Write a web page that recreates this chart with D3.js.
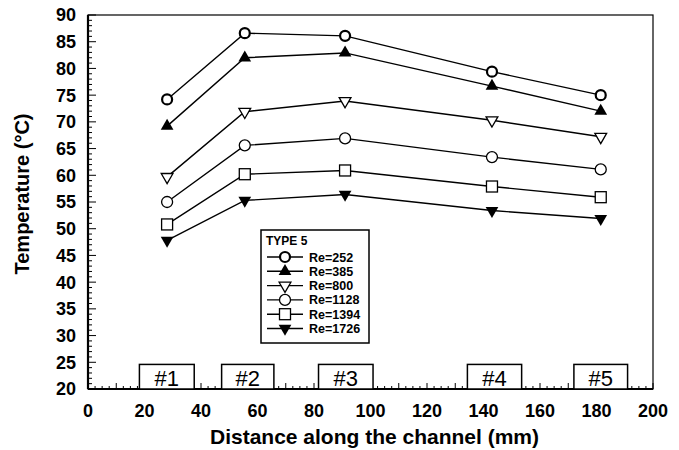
<!DOCTYPE html>
<html>
<head>
<meta charset="utf-8">
<script src="https://cdn.jsdelivr.net/npm/d3@7"></script>
<style>
  body { margin: 0; background: #fff; }
  svg { font-family: "Liberation Sans", Arial, sans-serif; }
</style>
</head>
<body>
<div id="chart"></div>
<script>
// positions along the channel (mm)
var xPos = [28, 55.5, 91, 143, 181.5];
var seriesNames = ['Re=252', 'Re=385', 'Re=800', 'Re=1128', 'Re=1394', 'Re=1726'];
var re252 = [74.2, 86.6, 86.1, 79.4, 75.0];
var re385 = [69.2, 82.0, 82.9, 76.7, 72.0];
var re800 = [59.7, 71.9, 73.9, 70.3, 67.2];
var re1128 = [55.0, 65.6, 66.9, 63.4, 61.1];
var re1394 = [50.8, 60.2, 60.9, 57.9, 55.9];
var re1726 = [47.8, 55.3, 56.4, 53.4, 51.9];
var seriesValues = [re252, re385, re800, re1128, re1394, re1726];

// heater boxes (#1..#5)
var boxLabels = ['#1', '#2', '#3', '#4', '#5'];
var boxStart = [18.2, 47.3, 81.6, 134.3, 172.0];
var boxEnd = [37.6, 65.8, 100.9, 153.5, 191.0];
var boxTop = 24.6;

var xTicks = [0, 20, 40, 60, 80, 100, 120, 140, 160, 180, 200];
var yTicks = [20, 25, 30, 35, 40, 45, 50, 55, 60, 65, 70, 75, 80, 85, 90];

var width = 679, height = 450;
var margin = {left: 88, right: 26, top: 15, bottom: 61};

var svg = d3.select('#chart').append('svg')
  .attr('width', width).attr('height', height);

var x = d3.scaleLinear().domain([0, 200]).range([margin.left, width - margin.right]);
var y = d3.scaleLinear().domain([20, 90]).range([height - margin.bottom, margin.top]);

// minor ticks
var xMinor = d3.range(0, 200.1, 2.5);
svg.append('g').selectAll('line').data(xMinor).enter().append('line')
  .attr('x1', d => x(d)).attr('x2', d => x(d))
  .attr('y1', y(20)).attr('y2', d => y(20) - (d % 10 === 0 ? 6 : 3))
  .attr('stroke', '#000').attr('stroke-width', 1);

var yMinor = d3.range(20, 90.1, 1);
svg.append('g').selectAll('line').data(yMinor).enter().append('line')
  .attr('x1', x(0)).attr('x2', d => x(0) + (d % 5 === 0 ? 8 : 4))
  .attr('y1', d => y(d)).attr('y2', d => y(d))
  .attr('stroke', '#000').attr('stroke-width', 1);

// frame
svg.append('rect')
  .attr('x', x(0)).attr('y', y(90))
  .attr('width', x(200) - x(0)).attr('height', y(20) - y(90))
  .attr('fill', 'none').attr('stroke', '#000').attr('stroke-width', 1.2);
svg.append('line').attr('x1', x(0)).attr('x2', x(0)).attr('y1', y(90)).attr('y2', y(20))
  .attr('stroke', '#000').attr('stroke-width', 2.2);
svg.append('line').attr('x1', x(0)).attr('x2', x(200)).attr('y1', y(20)).attr('y2', y(20))
  .attr('stroke', '#000').attr('stroke-width', 2.2);

// tick labels
svg.append('g').selectAll('text').data(yTicks).enter().append('text')
  .attr('x', x(0) - 12).attr('y', d => y(d)).attr('dy', '0.36em')
  .attr('text-anchor', 'end').attr('font-size', 18).attr('font-weight', 'bold')
  .text(d => d);
svg.append('g').selectAll('text').data(xTicks).enter().append('text')
  .attr('x', d => x(d)).attr('y', y(20) + 28)
  .attr('text-anchor', 'middle').attr('font-size', 18).attr('font-weight', 'bold')
  .text(d => d);

// axis titles
svg.append('text')
  .attr('x', (x(0) + x(200)) / 2 + 4).attr('y', 444)
  .attr('text-anchor', 'middle').attr('font-size', 21).attr('font-weight', 'bold')
  .text('Distance along the channel (mm)');
svg.append('text')
  .attr('transform', 'translate(29,' + ((y(20) + y(90)) / 2 - 8) + ') rotate(-90)')
  .attr('text-anchor', 'middle').attr('font-size', 20).attr('font-weight', 'bold')
  .text('Temperature (°C)');

// heater boxes
var boxes = svg.append('g').selectAll('g').data(boxLabels).enter().append('g');
boxes.append('rect')
  .attr('x', (d, i) => x(boxStart[i])).attr('y', y(boxTop))
  .attr('width', (d, i) => x(boxEnd[i]) - x(boxStart[i]))
  .attr('height', y(20) - y(boxTop))
  .attr('fill', '#fff').attr('stroke', '#000').attr('stroke-width', 1.5);
boxes.append('text')
  .attr('x', (d, i) => (x(boxStart[i]) + x(boxEnd[i])) / 2).attr('y', y(20) - 3)
  .attr('text-anchor', 'middle').attr('font-size', 22)
  .text(d => d);

// markers
function marker(g, i, cx, cy) {
  if (i === 0) {
    g.append('circle').attr('cx', cx).attr('cy', cy).attr('r', 5)
      .attr('fill', '#fff').attr('stroke', '#000').attr('stroke-width', 2.2);
  } else if (i === 1) {
    g.append('path').attr('d', d3.symbol(d3.symbolTriangle, 70)())
      .attr('transform', 'translate(' + cx + ',' + cy + ')').attr('fill', '#000');
  } else if (i === 2) {
    g.append('path').attr('d', d3.symbol(d3.symbolTriangle, 60)())
      .attr('transform', 'translate(' + cx + ',' + cy + ') rotate(180)')
      .attr('fill', '#fff').attr('stroke', '#000').attr('stroke-width', 1.3);
  } else if (i === 3) {
    g.append('circle').attr('cx', cx).attr('cy', cy).attr('r', 5.5)
      .attr('fill', '#fff').attr('stroke', '#000').attr('stroke-width', 1.3);
  } else if (i === 4) {
    g.append('rect').attr('x', cx - 5.5).attr('y', cy - 5.5).attr('width', 11).attr('height', 11)
      .attr('fill', '#fff').attr('stroke', '#000').attr('stroke-width', 1.3);
  } else {
    g.append('path').attr('d', d3.symbol(d3.symbolTriangle, 70)())
      .attr('transform', 'translate(' + cx + ',' + cy + ') rotate(180)').attr('fill', '#000');
  }
}

var line = d3.line().x((d, i) => x(xPos[i])).y(d => y(d));
seriesValues.forEach(function(vals, s) {
  svg.append('path').attr('d', line(vals))
    .attr('fill', 'none').attr('stroke', '#000').attr('stroke-width', 1.4);
  var g = svg.append('g');
  vals.forEach(function(v, i) { marker(g, s, x(xPos[i]), y(v)); });
});

// legend
var lg = svg.append('g').attr('transform', 'translate(261,230)');
lg.append('rect').attr('width', 108).attr('height', 113)
  .attr('fill', '#fff').attr('stroke', '#000').attr('stroke-width', 1.5);
lg.append('text').attr('x', 5).attr('y', 15)
  .attr('font-size', 12).attr('font-weight', 'bold').text('TYPE 5');
seriesNames.forEach(function(name, s) {
  var ly = 27 + s * 14.3;
  lg.append('line').attr('x1', 6).attr('x2', 42).attr('y1', ly).attr('y2', ly)
    .attr('stroke', '#000').attr('stroke-width', 1.4);
  marker(lg, s, 24, ly);
  lg.append('text').attr('x', 48).attr('y', ly).attr('dy', '0.36em')
    .attr('font-size', 12.5).attr('font-weight', 'bold').text(name);
});
</script>
</body>
</html>
